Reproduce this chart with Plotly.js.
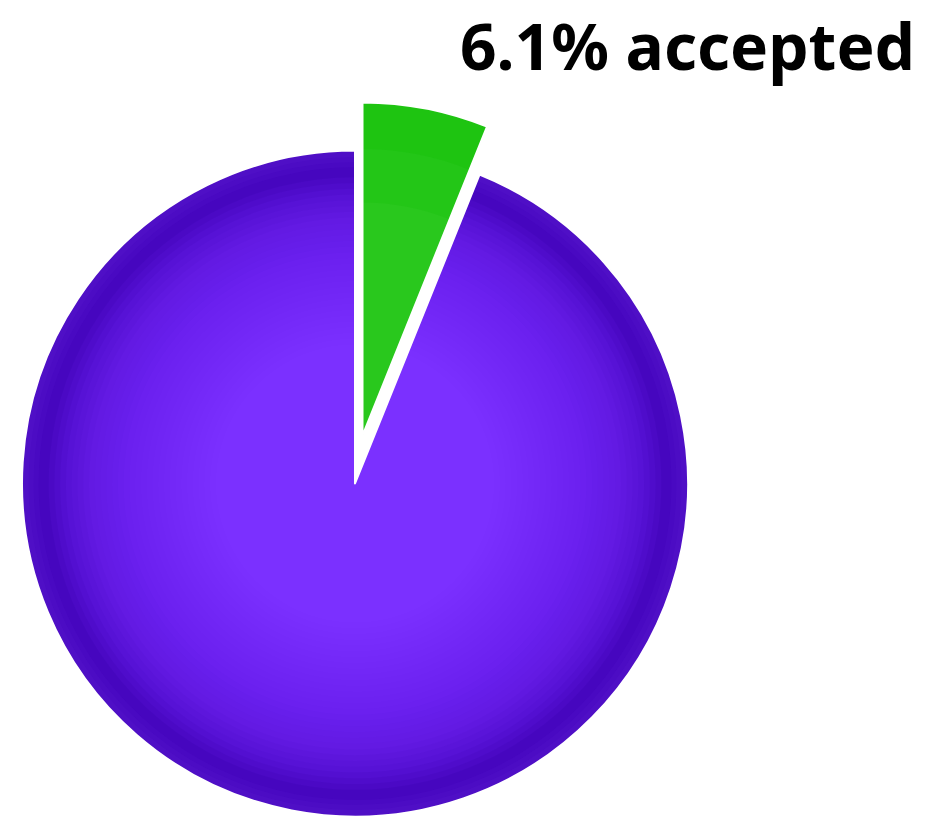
<!DOCTYPE html>
<html><head><meta charset="utf-8">
<script src="https://cdn.plot.ly/plotly-3.0.1.min.js"></script>
<style>html,body{margin:0;padding:0;background:#fff;overflow:hidden}#chart{width:927px;height:818px}</style>
</head><body><div id="chart"></div>
<script>
// ---- data ----
const labels = ['accepted', 'not accepted'];
const values = [6.1, 93.9];
const sliceColors = ['#29c81d', '#7b30ff'];

// ---- geometry / style ----
const W = 927, H = 818;
const cx = 355, cy = 483.5, R = 333;
const pullDx = 7.5, pullDy = -48;
const T = 'rgba(0,0,0,0)';
function dom(x, y, r) { return {x: [(x - r) / W, (x + r) / W], y: [1 - (y + r) / H, 1 - (y - r) / H]}; }
const mainDom = dom(cx, cy, R);
const pullDom = dom(cx + pullDx, cy + pullDy, R);

function pie(domain, colors, opts) {
  return Object.assign({
    type: 'pie', labels: labels, values: values, sort: false, direction: 'clockwise', rotation: 0,
    domain: domain, textinfo: 'none', hoverinfo: 'skip', showlegend: false,
    marker: {colors: colors, line: {width: 0}}
  }, opts || {});
}

const traces = [];
// base fills
traces.push(pie(mainDom, [T, sliceColors[1]], {hoverinfo: 'label+percent'}));
traces.push(pie(pullDom, [sliceColors[0], T], {hoverinfo: 'label+percent'}));

// radial shading for the purple slice (piecewise profile of cumulative overlay alpha)
const prof = [[0.40, 0.0], [0.55, 0.06], [0.68, 0.15], [0.78, 0.27], [0.85, 0.42], [0.89, 0.58], [0.92, 0.72]];
function profA(r) {
  if (r <= prof[0][0]) return prof[0][1];
  for (let i = 1; i < prof.length; i++) {
    if (r <= prof[i][0]) {
      const t = (r - prof[i-1][0]) / (prof[i][0] - prof[i-1][0]);
      return prof[i-1][1] + t * (prof[i][1] - prof[i-1][1]);
    }
  }
  return prof[prof.length - 1][1];
}
const N = 30;
let prev = 0;
for (let k = 1; k <= N; k++) {
  const r = 0.40 + (0.92 - 0.40) * k / N;
  const A = profA(r);
  const a = 1 - (1 - A) / (1 - prev);
  prev = A;
  if (a <= 0) continue;
  traces.push(pie(mainDom, [T, 'rgba(55,0,170,' + a.toFixed(4) + ')'], {hole: r}));
}
// slightly lighter outer edge, in soft steps
[0.95, 0.965, 0.98].forEach(function (h) {
  traces.push(pie(mainDom, [T, 'rgba(110,50,230,0.08)'], {hole: h}));
});

// subtle shading for the green slice
traces.push(pie(pullDom, ['rgba(15,190,0,0.2)', T], {hole: 0.7}));
traces.push(pie(pullDom, ['rgba(15,190,0,0.25)', T], {hole: 0.86}));

// white outlines on top
traces.push(pie(mainDom, [T, T], {marker: {colors: [T, T], line: {color: '#ffffff', width: [0, 2]}}}));
traces.push(pie(pullDom, [T, T], {marker: {colors: [T, T], line: {color: '#ffffff', width: [2, 0]}}}));

const layout = {
  width: W, height: H, margin: {l: 0, r: 0, t: 0, b: 0},
  paper_bgcolor: '#ffffff', plot_bgcolor: '#ffffff', showlegend: false,
  annotations: [{
    text: values[0] + '% ' + labels[0], showarrow: false,
    xref: 'paper', yref: 'paper', x: 917 / W, y: 1 - 46 / H, xanchor: 'right', yanchor: 'middle',
    font: {family: 'Noto Sans', size: 64, color: '#000000', weight: 'bold'}
  }]
};
Plotly.newPlot('chart', traces, layout, {displayModeBar: false, staticPlot: true});
</script>
</body></html>
